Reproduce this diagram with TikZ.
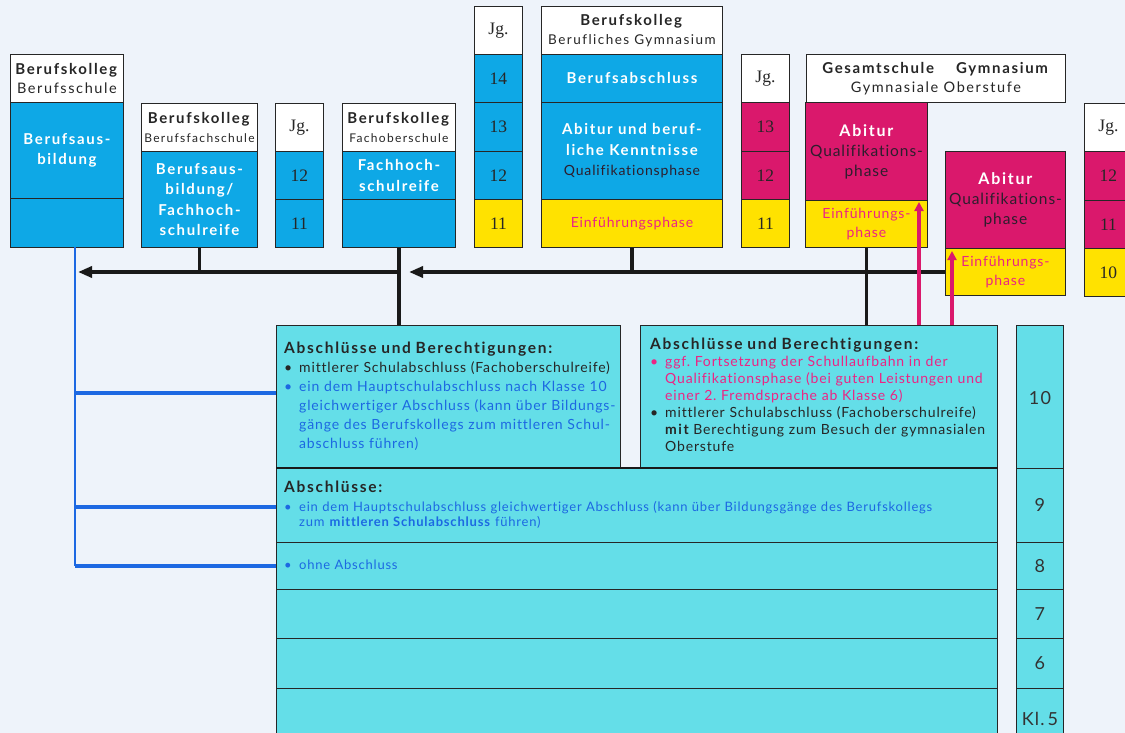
\documentclass[tikz,border=0pt]{standalone}
\usepackage{fontspec}
\setmainfont{Lato}[LetterSpace=6,Ligatures=NoCommon]
\newfontfamily\widefont{Lato}[LetterSpace=11,Ligatures=NoCommon]
\newfontfamily\numfont{Liberation Serif}
\usetikzlibrary{calc}
\usetikzlibrary{arrows.meta}
\definecolor[named]{BKBack}{RGB}{238,243,250}
\definecolor[named]{BKCyan}{RGB}{14,168,230}
\definecolor[named]{BKYellow}{RGB}{255,226,0}
\definecolor[named]{BKMagenta}{RGB}{218,24,108}
\definecolor[named]{BKTurq}{RGB}{100,222,232}
\definecolor[named]{BKBlue}{RGB}{28,104,226}
\definecolor[named]{BKPink}{RGB}{236,36,132}
\definecolor[named]{BKDark}{RGB}{45,30,45}
\setlength{\parindent}{0pt}
\frenchspacing
\newcommand{\sz}[2]{\fontsize{#1}{#2}\selectfont}
\newcommand{\bul}[2]{{\color{#1}\hangindent=15pt\hangafter=1\noindent\makebox[15pt][l]{\textbullet}#2\par}}
\newcommand{\ttl}[1]{{\widefont\bfseries\sz{15.5}{19}#1}}
\tikzset{
  seg/.style 2 args={draw=black!85,line width=0.9pt,anchor=north west,inner sep=0pt,
    minimum width=#1,minimum height=#2,align=center},
  hdr/.style={fill=white,text=black!85,font=\widefont\sz{14.5}{19}},
  cy/.style={fill=BKCyan,text=white,font=\widefont\bfseries\sz{15}{20.5}},
  ye/.style={fill=BKYellow,text=BKPink,font=\sz{14}{19}},
  mg/.style={fill=BKMagenta,text=BKDark,font=\sz{15.5}{20}},
  jg/.style={font=\numfont\sz{17.5}{20},text=black!85},
  row/.style={seg={721}{#1},fill=BKTurq,line width=1.4pt},
  kl/.style={seg={47}{#1},fill=BKTurq,font=\sz{18}{20},text=black!80},
  stem/.style={line width=3.4pt,black!90},
  arr/.style={stem,-{Triangle[length=14pt,width=11pt]}},
  pinkarr/.style={line width=3.6pt,BKMagenta,-{Triangle[length=9pt,width=9pt]}},
  blueln/.style={line width=4pt,BKBlue},
  txt/.style={anchor=north west,inner sep=0pt,align=left}
}

\begin{document}
\begin{tikzpicture}[x=1pt,y=-1pt]
  \useasboundingbox (0,0) rectangle (1125,733);
  \clip (0,0) rectangle (1125,733);
  \fill[BKBack] (0,0) rectangle (1125,733);

  % Berufskolleg: Berufsschule, Berufsfachschule, Fachoberschule
  \node[seg={113}{48},hdr] (BSh) at (10,54) {\textbf{\sz{15}{19}Berufskolleg}\\Berufsschule};
  \node[seg={113}{96},cy] (BSa) at (10,102) {Berufsaus-\\bildung};
  \node[seg={113}{49},cy] (BSb) at (10,198) {};

  \node[seg={116}{48},hdr] (BFSh) at (141,103) {\textbf{\sz{15}{19}Berufskolleg}\\{\sz{12}{16}Berufsfachschule}};
  \node[seg={116}{96},cy] (BFSa) at (141,151) {Berufsaus-\\bildung/\\Fachhoch-\\schulreife};

  \node[seg={48}{48},hdr,jg] (J1h) at (275,103) {Jg.};
  \node[seg={48}{48},cy,jg] (J1a) at (275,151) {12};
  \node[seg={48}{48},cy,jg] (J1b) at (275,199) {11};

  \node[seg={113}{48},hdr] (FOSh) at (342,103) {\textbf{\sz{15}{19}Berufskolleg}\\{\sz{12}{16}Fachoberschule}};
  \node[seg={113}{48},cy] (FOSa) at (342,151) {Fachhoch-\\schulreife};
  \node[seg={113}{48},cy] (FOSb) at (342,199) {};

  % Berufskolleg: Berufliches Gymnasium
  \node[seg={48}{48},hdr,jg] (J2h) at (474,6) {Jg.};
  \node[seg={48}{48},cy,jg] (J2a) at (474,54) {14};
  \node[seg={48}{49},cy,jg] (J2b) at (474,102) {13};
  \node[seg={48}{48},cy,jg] (J2c) at (474,151) {12};
  \node[seg={48}{48},ye,jg] (J2d) at (474,199) {11};

  \node[seg={181}{48},hdr] (BGh) at (541,6) {\textbf{\sz{15}{19}Berufskolleg}\\{\sz{13.5}{19}Berufliches Gymnasium}};
  \node[seg={181}{48},cy] (BGa) at (541,54) {Berufsabschluss};
  \node[seg={181}{97},cy] (BGb) at (541,102)
    {Abitur und beruf-\\liche Kenntnisse\\{\normalfont\color{BKDark}\sz{14}{20}Qualifikationsphase}};
  \node[seg={181}{48},ye] (BGc) at (541,199) {Einführungsphase};

  % Gesamtschule und Gymnasium: Gymnasiale Oberstufe
  \node[seg={48}{48},hdr,jg] (J3h) at (741,54) {Jg.};
  \node[seg={48}{49},mg,jg] (J3a) at (741,102) {13};
  \node[seg={48}{48},mg,jg] (J3b) at (741,151) {12};
  \node[seg={48}{48},ye,jg] (J3c) at (741,199) {11};

  \node[seg={259}{48},hdr] (GOh) at (806,54) {\textbf{\sz{15}{19}Gesamtschule\hspace{22pt}Gymnasium}\\Gymnasiale Oberstufe};
  \node[seg={122}{98},mg] (GEa) at (805,102) {{\widefont\bfseries\color{white}\sz{16}{22}Abitur}\\Qualifikations-\\phase};
  \node[seg={122}{47},ye] (GEb) at (805,200) {Einführungs-\\phase};
  \node[seg={120}{97},mg] (GYa) at (945,151) {{\widefont\bfseries\color{white}\sz{16}{22}Abitur}\\Qualifikations-\\phase};
  \node[seg={120}{47},ye] (GYb) at (945,248) {Einführungs-\\phase};

  \node[seg={48}{48},hdr,jg] (J4h) at (1084,103) {Jg.};
  \node[seg={48}{49},mg,jg] (J4a) at (1084,151) {12};
  \node[seg={48}{48},mg,jg] (J4b) at (1084,200) {11};
  \node[seg={48}{48},ye,jg] (J4c) at (1084,248) {10};

  % Sekundarstufe I
  \node[seg={344}{142},fill=BKTurq] (RSa) at (276,325) {};
  \node[seg={357}{142},fill=BKTurq] (GSa) at (640,325) {};
  \node[row=75] (SIa) at (276,467) {};
  \node[row=47] (SIb) at (276,542) {};
  \node[row=49] (SIc) at (276,589) {};
  \node[row=50] (SId) at (276,638) {};
  \node[row=60] (SIe) at (276,688) {};
  \draw[line width=2.6pt,black!90] (RSa.south west) -- (RSa.south west -| GSa.south east);

  \node[kl=145] (K10) at (1016,325) {10};
  \node[kl=74] (K9) at (1016,468) {9};
  \node[kl=47] (K8) at (1016,542) {8};
  \node[kl=49] (K7) at (1016,589) {7};
  \node[kl=50] (K6) at (1016,638) {6};
  \node[kl=60] (K5) at (1016,688) {Kl.\,5};

  % Texts of the Abschluesse
  \node[txt,text width=340pt,font=\sz{14}{19},text=black!85] (RSt) at (284,342) {%
    \ttl{Abschlüsse und Berechtigungen:}\par
    \bul{black!85}{mittlerer Schulabschluss (Fachoberschulreife)}
    \bul{BKBlue}{ein dem Hauptschulabschluss nach Klasse 10\newline gleichwertiger Abschluss (kann über Bildungs-\newline gänge des Berufskollegs zum mittleren Schul-\newline abschluss führen)}};
  \node[txt,text width=350pt,font=\sz{14}{17},text=black!85] (GSt) at (650,338) {%
    \ttl{Abschlüsse und Berechtigungen:}\par
    \bul{BKPink}{ggf. Fortsetzung der Schullaufbahn in der\newline Qualifikationsphase (bei guten Leistungen und\newline einer 2. Fremdsprache ab Klasse 6)}
    \bul{black!85}{mittlerer Schulabschluss (Fachoberschulreife)\newline {\widefont\bfseries mit} Berechtigung zum Besuch der gymnasialen\newline Oberstufe}};
  \node[txt,text=black!85] (SIt) at (284,481) {\ttl{Abschlüsse:}};
  \node[txt,text width=720pt,font=\sz{13}{15.5}] (SIu) at (284,501) {%
    \bul{BKBlue}{ein dem Hauptschulabschluss gleichwertiger Abschluss (kann über Bildungsgänge des Berufskollegs\newline zum \textbf{mittleren Schulabschluss} führen)}};
  \node[txt,text width=300pt,font=\sz{13}{15.5}] (SIv) at (284,560) {\bul{BKBlue}{ohne Abschluss}};

  % Connections
  \coordinate (H1) at (78,272);
  \coordinate (H2) at (409,272);
  \coordinate (BL) at (75,247);
  \coordinate (P1) at (919,202);
  \coordinate (P2) at (952,251);

  \draw[stem] (BFSa.south) -- (BFSa.south |- H1);
  \draw[stem] (FOSb.south) -- (FOSb.south |- RSa.north);
  \draw[arr] (FOSb.south |- H1) -- (H1);
  \draw[stem] (BGc.south) -- (BGc.south |- H2);
  \draw[stem] (GEb.south) -- (GEb.south |- GSa.north);
  \draw[arr] (GYb.west |- H2) -- (H2);

  \draw[pinkarr] (GSa.north -| P1) -- (P1);
  \draw[pinkarr] (GSa.north -| P2) -- (P2);

  \draw[BKBlue,line width=2.6pt] (BL) -- (BL |- SIb.west);
  \draw[blueln] (BL |- 0,393) -- (RSa.west |- 0,393);
  \draw[blueln] (BL |- 0,507) -- (SIa.west |- 0,507);
  \draw[blueln] (BL |- SIb.west) -- (SIb.west);
\end{tikzpicture}
\end{document}
